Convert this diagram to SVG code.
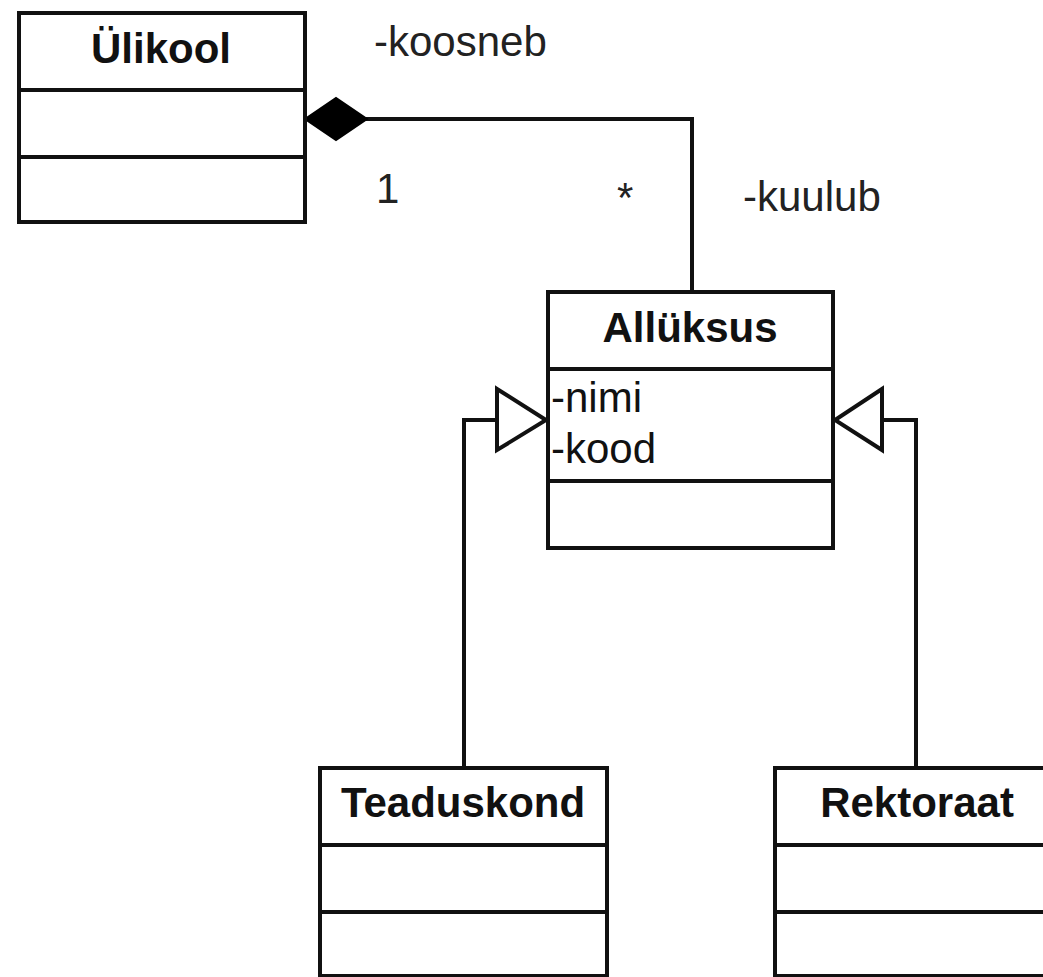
<svg xmlns="http://www.w3.org/2000/svg" width="1043" height="977" viewBox="0 0 1043 977">
  <style>
    .box { fill: #ffffff; stroke: #111111; stroke-width: 4; }
    .div { stroke: #111111; stroke-width: 4; }
    .title { font-family: "Liberation Sans", Arial, sans-serif; font-size: 42px; font-weight: bold; fill: #111111; text-anchor: middle; }
    .attr { font-family: "Liberation Sans", Arial, sans-serif; font-size: 42px; fill: #111111; }
    .lbl { font-family: "Liberation Sans", Arial, sans-serif; font-size: 42px; fill: #222222; }
    .conn { fill: none; stroke: #111111; stroke-width: 4; }
  </style>
  <rect width="1043" height="977" fill="#ffffff"/>

  <g id="connectors">
    <!-- composition Ülikool - Allüksus -->
    <polyline class="conn" points="366,119 692,119 692,292"/>
    <polygon points="305,119 336,98 367,119 336,140" fill="#000000" stroke="#000000" stroke-width="2"/>
    <!-- generalization Teaduskond -> Allüksus -->
    <polyline class="conn" points="464,768 464,420 497,420"/>
    <polygon points="497,389 546,420 497,450" fill="#ffffff" stroke="#111111" stroke-width="4"/>
    <!-- generalization Rektoraat -> Allüksus -->
    <polyline class="conn" points="916,768 916,420 882,420"/>
    <polygon points="882,389 835,420 882,450" fill="#ffffff" stroke="#111111" stroke-width="4"/>
  </g>

  <g id="labels">
    <text class="lbl" x="374" y="56">-koosneb</text>
    <text class="lbl" x="376" y="203">1</text>
    <text class="lbl" x="617" y="212">*</text>
    <text class="lbl" x="743" y="211">-kuulub</text>
  </g>

  <g id="ulikool">
    <rect class="box" x="19" y="13" width="286" height="209"/>
    <line class="div" x1="19" y1="90" x2="305" y2="90"/>
    <line class="div" x1="19" y1="157" x2="305" y2="157"/>
    <text class="title" x="161" y="63">Ülikool</text>
  </g>

  <g id="alluksus">
    <rect class="box" x="548" y="292" width="285" height="256"/>
    <line class="div" x1="548" y1="369" x2="833" y2="369"/>
    <line class="div" x1="548" y1="481" x2="833" y2="481"/>
    <text class="title" x="690" y="342">Allüksus</text>
    <text class="attr" x="551" y="412">-nimi</text>
    <text class="attr" x="551" y="463">-kood</text>
  </g>

  <g id="teaduskond">
    <rect class="box" x="320" y="768" width="287" height="208"/>
    <line class="div" x1="320" y1="845" x2="607" y2="845"/>
    <line class="div" x1="320" y1="912" x2="607" y2="912"/>
    <text class="title" x="463" y="817">Teaduskond</text>
  </g>

  <g id="rektoraat">
    <rect class="box" x="775" y="768" width="287" height="208"/>
    <line class="div" x1="775" y1="845" x2="1062" y2="845"/>
    <line class="div" x1="775" y1="912" x2="1062" y2="912"/>
    <text class="title" x="917" y="817">Rektoraat</text>
  </g>
</svg>
